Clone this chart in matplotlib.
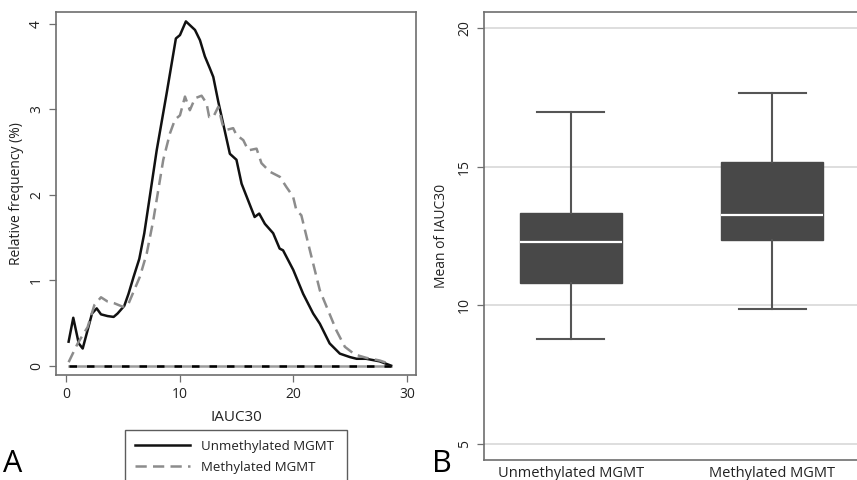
import numpy as np
import matplotlib
matplotlib.use("Agg")
import matplotlib.pyplot as plt
from matplotlib.lines import Line2D

plt.rcParams["font.family"] = ["Open Sans", "DejaVu Sans"]

# ---- panel A: density of IAUC30 by MGMT status ----
unmeth_x = [0.23, 0.64, 1.12, 1.47, 2.29, 2.7, 3.08, 3.66, 4.19, 4.54, 5.13, 5.5,
            5.95, 6.45, 6.89, 7.33, 7.98, 8.86, 9.67, 10.03, 10.55, 11.35, 11.79,
            12.22, 12.66, 12.96, 13.4, 14.42, 15.0, 15.45, 16.6, 17.0, 17.5, 18.23,
            18.8, 19.1, 20.0, 20.87, 21.75, 22.34, 23.2, 24.1, 24.98, 25.57, 26.4,
            27.6, 28.6]
unmeth_y = [0.28, 0.56, 0.26, 0.20, 0.61, 0.67, 0.60, 0.58, 0.57, 0.61, 0.70, 0.84,
            1.04, 1.25, 1.55, 1.94, 2.52, 3.19, 3.83, 3.87, 4.03, 3.93, 3.81,
            3.62, 3.48, 3.38, 3.09, 2.48, 2.41, 2.13, 1.74, 1.78, 1.66, 1.55,
            1.37, 1.35, 1.12, 0.84, 0.61, 0.49, 0.26, 0.14, 0.10, 0.08, 0.08,
            0.05, 0.0]

meth_x = [0.23, 1.03, 1.9, 2.5, 3.08, 3.66, 4.25, 4.98, 5.42, 6.5, 7.1, 7.68,
          8.56, 9.15, 9.59, 10.03, 10.47, 10.9, 11.35, 11.93, 12.37, 12.6, 12.96,
          13.4, 13.78, 14.13, 14.71, 15.0, 15.6, 16.04, 16.77, 17.2, 17.94, 18.82,
          19.4, 19.98, 20.27, 20.71, 21.46, 22.34, 22.93, 23.8, 24.54, 25.42,
          26.45, 27.6, 28.6]
meth_y = [0.04, 0.26, 0.45, 0.71, 0.80, 0.75, 0.73, 0.69, 0.70, 1.04, 1.31, 1.70,
          2.41, 2.72, 2.88, 2.93, 3.15, 2.99, 3.13, 3.16, 3.07, 2.91, 2.91,
          3.03, 2.82, 2.76, 2.78, 2.70, 2.64, 2.52, 2.54, 2.37, 2.27, 2.21,
          2.09, 1.98, 1.82, 1.76, 1.35, 0.88, 0.69, 0.41, 0.22, 0.13,
          0.09, 0.06, 0.015]

legend_labels = ["Unmethylated MGMT", "Methylated MGMT"]

# ---- panel B: box plot of mean IAUC30 ----
groups = ["Unmethylated MGMT", "Methylated MGMT"]
whisker_low = [8.79, 9.87]
q1 = [10.81, 12.35]
median = [12.28, 13.26]
q3 = [13.32, 15.18]
whisker_high = [16.97, 17.65]

spine_col = "#6e6e6e"
text_col = "#222222"

fig = plt.figure(figsize=(8.57, 4.8), dpi=100, facecolor="w")

# panel A
ax1 = fig.add_axes([56/857, 1-375/480, 360/857, 363/480])
ax1.plot([unmeth_x[0], unmeth_x[-1]], [0, 0], color="#9a9a9a", lw=1.8)
ax1.plot([unmeth_x[0], unmeth_x[-1]], [0, 0], color="k", lw=1.8, ls=(0, (3, 4)))
ax1.plot(unmeth_x, unmeth_y, color="#111111", lw=1.8)
ax1.plot(meth_x, meth_y, color="#8c8c8c", lw=1.8, ls=(0, (4.5, 2.5)))
ax1.set_xlim(-0.88, 30.8)
ax1.set_ylim(-0.11, 4.14)
ax1.set_xticks([0, 10, 20, 30])
ax1.set_yticks([0, 1, 2, 3, 4])
ax1.set_xlabel("IAUC30", fontsize=11, color=text_col, labelpad=6)
ax1.set_ylabel("Relative frequency (%)", fontsize=10, color=text_col, labelpad=4)
ax1.tick_params(axis="both", labelsize=10, colors=text_col, length=5,
                color=spine_col, width=0.9)
for lab in ax1.get_yticklabels():
    lab.set_rotation(90)
    lab.set_va("center")
for sp in ax1.spines.values():
    sp.set_color(spine_col)
    sp.set_linewidth(1.2)

handles = [Line2D([], [], color="#111111", lw=1.8),
           Line2D([], [], color="#8c8c8c", lw=1.8, ls=(0, (4.5, 2.5)))]
leg = fig.legend(handles, legend_labels, loc="upper left",
                 bbox_to_anchor=(125/857, 1-430/480, 222/857, 0.0),
                 bbox_transform=fig.transFigure, mode="expand",
                 fontsize=9.5, frameon=True, fancybox=False, handlelength=4.2,
                 borderaxespad=0, labelspacing=0.6, borderpad=0.75)
leg.get_frame().set_edgecolor("#333333")
leg.get_frame().set_linewidth(1.0)
for t in leg.get_texts():
    t.set_color(text_col)

fig.text(0.004, 0.003, "A", fontsize=22, color="k", ha="left", va="bottom")

# panel B
ax2 = fig.add_axes([484/857, 1-460/480, 1-484/857, 448/480])
ax2.set_axisbelow(True)
ax2.yaxis.grid(True, color="#d8d8d8", lw=1.2)
stats = []
for i, g in enumerate(groups):
    stats.append({"label": g, "whislo": whisker_low[i], "q1": q1[i],
                  "med": median[i], "q3": q3[i], "whishi": whisker_high[i],
                  "fliers": []})
ax2.bxp(stats, positions=[1, 2], widths=0.505, capwidths=0.33,
        patch_artist=True, showfliers=False,
        boxprops=dict(facecolor="#484848", edgecolor="#484848", lw=1),
        medianprops=dict(color="white", lw=1.6),
        whiskerprops=dict(color="#555555", lw=1.5),
        capprops=dict(color="#555555", lw=1.5))
ax2.set_xlim(0.57, 2.42)
ax2.set_ylim(4.44, 20.56)
ax2.set_yticks([5, 10, 15, 20])
ax2.set_ylabel("Mean of IAUC30", fontsize=10, color=text_col, labelpad=6)
ax2.tick_params(axis="y", labelsize=10, colors=text_col, length=5,
                color=spine_col, width=0.9)
ax2.tick_params(axis="x", labelsize=10.5, colors=text_col, length=0, pad=4)
for lab in ax2.get_yticklabels():
    lab.set_rotation(90)
    lab.set_va("center")
ax2.spines["right"].set_visible(False)
for sp in ["left", "bottom", "top"]:
    ax2.spines[sp].set_color(spine_col)
    ax2.spines[sp].set_linewidth(1.2)

fig.text(432/857, 0.003, "B", fontsize=22, color="k", ha="left", va="bottom")

fig.savefig("out.png", dpi=100)
